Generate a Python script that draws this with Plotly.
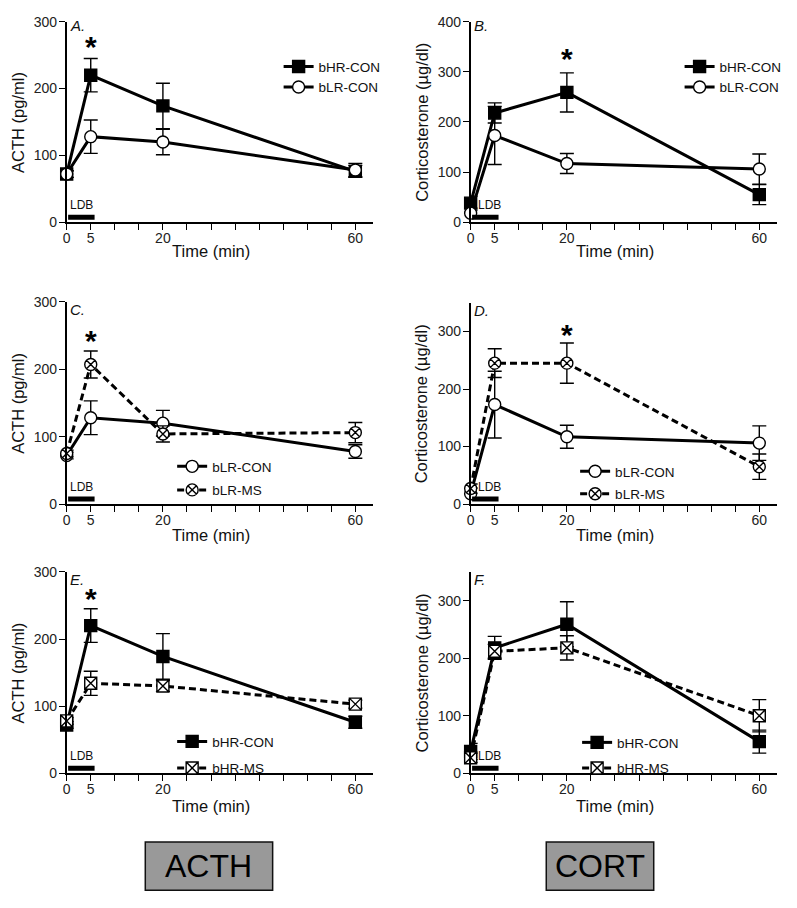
import plotly.graph_objects as go

W, H = 797, 908

# ---------------- data ----------------
times = [0, 5, 20, 60]

acth_hr_con = [72, 220, 174, 76]
acth_hr_con_err = [5, 25, 34, 9]
acth_lr_con = [72, 128, 120, 78]
acth_lr_con_err = [5, 25, 19, 10]
acth_lr_ms = [75, 207, 104, 106]
acth_lr_ms_err = [5, 20, 12, 15]
acth_hr_ms = [78, 134, 130, 103]
acth_hr_ms_err = [5, 18, 8, 6]

cort_hr_con = [38, 218, 259, 55]
cort_hr_con_err = [14, 20, 39, 20]
cort_lr_con = [18, 173, 117, 106]
cort_lr_con_err = [10, 58, 20, 30]
cort_lr_ms = [27, 245, 245, 65]
cort_lr_ms_err = [8, 25, 35, 22]
cort_hr_ms = [27, 212, 218, 100]
cort_hr_ms_err = [8, 12, 21, 28]

x_tick_vals = list(range(0, 61, 5))
x_tick_text = ["0", "5", "", "", "20", "", "", "", "", "", "", "", "60"]

FONT = "Liberation Sans, Arial, sans-serif"

def px(x):
    return x / W

def py(y):
    return 1 - y / H

STYLE = {
    "bHR-CON": dict(symbol="square", color="black", dash="solid"),
    "bLR-CON": dict(symbol="circle", color="white", dash="solid"),
    "bLR-MS": dict(symbol="circle-x", color="white", dash="7px,4px"),
    "bHR-MS": dict(symbol="square-x", color="white", dash="7px,4px"),
}

# panel: (letter, x-domain px, y-domain px (top,bottom), yrange, ytitle, series,
#         legend pos, star, ldb_x, group_gap, letter dy, xtitle dy)
panels = [
    ("A.", (63, 371), (14, 218), 300, "ACTH (pg/ml)",
     [("bHR-CON", acth_hr_con, acth_hr_con_err), ("bLR-CON", acth_lr_con, acth_lr_con_err)],
     (276, 44), (5, 260), 3.0, 0, 4, 29),
    ("B.", (469, 777), (14, 218), 400, "Corticosterone (\u00b5g/dl)",
     [("bHR-CON", cort_hr_con, cort_hr_con_err), ("bLR-CON", cort_lr_con, cort_lr_con_err)],
     (679, 44), (20, 323), 3.9, 0, 4, 29),
    ("C.", (63, 371), (299, 505), 300, "ACTH (pg/ml)",
     [("bLR-CON", acth_lr_con, acth_lr_con_err), ("bLR-MS", acth_lr_ms, acth_lr_ms_err)],
     (169, 451), (5, 240), 3.0, 3, 8, 31),
    ("D.", (469, 777), (300, 505), 350, "Corticosterone (\u00b5g/dl)",
     [("bLR-CON", cort_lr_con, cort_lr_con_err), ("bLR-MS", cort_lr_ms, cort_lr_ms_err)],
     (574, 456), (20, 292), 3.9, 2, 8, 31),
    ("E.", (63, 371), (574, 779), 300, "ACTH (pg/ml)",
     [("bHR-CON", acth_hr_con, acth_hr_con_err), ("bHR-MS", acth_hr_ms, acth_hr_ms_err)],
     (169, 731), (5, 257), 3.0, 6, 8, 33),
    ("F.", (469, 777), (574, 779), 350, "Corticosterone (\u00b5g/dl)",
     [("bHR-CON", cort_hr_con, cort_hr_con_err), ("bHR-MS", cort_hr_ms, cort_hr_ms_err)],
     (576, 732), (None, None), 3.9, 5, 8, 33),
]

fig = go.Figure()
layout = dict(
    width=W, height=H, margin=dict(l=0, r=0, t=0, b=0),
    paper_bgcolor="white", plot_bgcolor="white",
    font=dict(family=FONT, color="#111"),
)
annotations = []
shapes = []

for i, (letter, xd, yd, ymax, ytitle, series, legpos, star, ldbx, gap, ldy, tdy) in enumerate(panels):
    n = i + 1
    xa = "x" if n == 1 else f"x{n}"
    ya = "y" if n == 1 else f"y{n}"
    leg = "legend" if n == 1 else f"legend{n}"
    xkey = "xaxis" if n == 1 else f"xaxis{n}"
    ykey = "yaxis" if n == 1 else f"yaxis{n}"
    layout[xkey] = dict(
        domain=[px(xd[0]), px(xd[1])], range=[0, 63.7], anchor=ya,
        showline=True, linecolor="black", linewidth=1.6, showgrid=False, zeroline=False,
        ticks="outside", ticklen=6, tickwidth=1.4, tickcolor="black",
        tickmode="array", tickvals=x_tick_vals, ticktext=x_tick_text,
        ticklabelstandoff=-4,
        tickfont=dict(size=14, color="#222", family=FONT), fixedrange=True,
    )
    layout[ykey] = dict(
        domain=[py(yd[1]), py(yd[0])], range=[0, ymax], anchor=xa,
        showline=True, linecolor="black", linewidth=1.6, showgrid=False, zeroline=False,
        ticks="outside", ticklen=6, tickwidth=1.4, tickcolor="black",
        tickmode="array", tickvals=list(range(0, ymax + 1, 100)),
        ticklabelstandoff=-1,
        tickfont=dict(size=14, color="#222", family=FONT), fixedrange=True,
    )
    for k, (name, vals, errs) in enumerate(series):
        st = STYLE[name]
        fig.add_trace(go.Scatter(
            x=times, y=vals, name=name, xaxis=xa, yaxis=ya, legend=leg,
            legendgroup=f"g{n}_{k}",
            mode="lines+markers", cliponaxis=False,
            line=dict(color="black", width=3, dash=st["dash"]),
            marker=dict(symbol=st["symbol"], color=st["color"], size=12,
                        line=dict(color="black", width=1.4)),
            error_y=dict(type="data", array=errs, visible=True, color="black",
                         thickness=1.4, width=7),
        ))
    layout[leg] = dict(
        x=px(legpos[0]), y=py(legpos[1]), xanchor="left", yanchor="top",
        bgcolor="rgba(0,0,0,0)", font=dict(size=13.5, family=FONT, color="#111"),
        itemwidth=30, tracegroupgap=gap, traceorder="grouped",
    )
    # panel letter
    annotations.append(dict(
        text=f"<i>{letter}</i>", x=px(xd[0] + 1), y=py(yd[0] + ldy),
        xref="paper", yref="paper", xanchor="left", yanchor="middle", showarrow=False,
        font=dict(size=15, family=FONT, color="#111"),
    ))
    # y title
    annotations.append(dict(
        text=ytitle, x=px(xd[0] - 49), y=py((yd[0] + yd[1]) / 2), textangle=-90,
        xref="paper", yref="paper", xanchor="center", yanchor="middle", showarrow=False,
        font=dict(size=16.5, family=FONT, color="#111"),
    ))
    # x title
    annotations.append(dict(
        text="Time (min)", x=30, xref=xa, y=py(yd[1] + tdy), yref="paper",
        xanchor="center", yanchor="middle", showarrow=False,
        font=dict(size=16.5, family=FONT, color="#111"),
    ))
    # significance star
    if star[0] is not None:
        annotations.append(dict(
            text="<b>*</b>", x=star[0], y=star[1], xref=xa, yref=ya,
            xanchor="center", yanchor="middle", yshift=2, showarrow=False,
            font=dict(size=30, family=FONT, color="black"),
        ))
    # LDB bar + label
    shapes.append(dict(
        type="rect", xref=xa, yref=ya, x0=0.3, x1=5.8, ysizemode="pixel", yanchor=0,
        y0=2.5, y1=7.5, fillcolor="black", line=dict(width=0),
    ))
    annotations.append(dict(
        text="LDB", x=ldbx, y=0, xref=xa, yref=ya, yshift=17,
        xanchor="center", yanchor="middle", showarrow=False,
        font=dict(size=12, family=FONT, color="#111"),
    ))

# bottom label boxes
for label, (x0, x1) in [("ACTH", (142, 270)), ("CORT", (545, 653))]:
    shapes.append(dict(
        type="rect", xref="paper", yref="paper", x0=px(x0), x1=px(x1),
        y0=py(898), y1=py(849), fillcolor="#999999", line=dict(color="#111", width=1.5),
    ))
    annotations.append(dict(
        text=label, x=px((x0 + x1) / 2), y=py(873.5), xref="paper", yref="paper",
        xanchor="center", yanchor="middle", showarrow=False,
        font=dict(size=32, family=FONT, color="black"),
    ))

layout["annotations"] = annotations
layout["shapes"] = shapes
fig.update_layout(**layout)
fig.write_html(
    "out.html",
    config={"displayModeBar": False},
    post_script="document.body.style.margin='0';document.body.style.overflow='hidden';",
)
